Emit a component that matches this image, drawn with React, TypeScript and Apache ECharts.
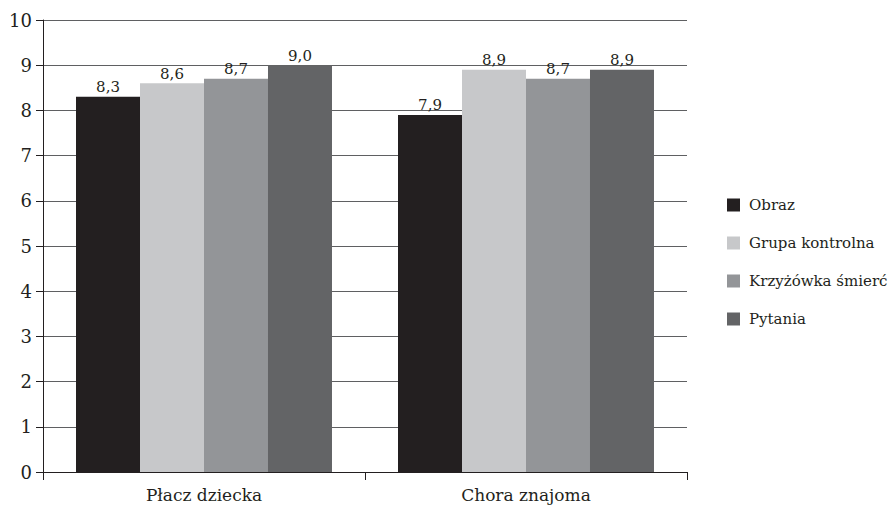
import React, { useEffect, useRef } from "react";
import * as echarts from "echarts";

const categories = ["Płacz dziecka", "Chora znajoma"];
const seriesNames = ["Obraz", "Grupa kontrolna", "Krzyżówka śmierć", "Pytania"];
const obraz = [8.3, 7.9];
const grupaKontrolna = [8.6, 8.9];
const krzyzowka = [8.7, 8.7];
const pytania = [9.0, 8.9];
const colors = ["#231f20", "#c7c8ca", "#939598", "#636466"];

const FONT = "DejaVu Serif";

export default function App() {
  const ref = useRef<HTMLDivElement>(null);
  useEffect(() => {
    document.body.style.margin = "0";
    if (!ref.current) return;
    const chart = echarts.init(ref.current, undefined, { renderer: "svg" });
    const values = [obraz, grupaKontrolna, krzyzowka, pytania];
    chart.setOption({
      animation: false,
      textStyle: { fontFamily: FONT },
      grid: { left: 43, right: 207, top: 20, bottom: 37, containLabel: false },
      legend: {
        orient: "vertical",
        left: 722,
        top: 192,
        itemWidth: 13,
        itemHeight: 13,
        itemGap: 22,
        icon: "rect",
        textStyle: { fontFamily: FONT, fontSize: 15, color: "#231f20", lineHeight: 16, padding: [0, 0, 0, 4] },
        data: seriesNames,
      },
      xAxis: {
        type: "category",
        data: categories,
        axisLine: { lineStyle: { color: "#231f20", width: 1 } },
        axisTick: { show: true, length: 8, lineStyle: { color: "#231f20" } },
        axisLabel: { fontFamily: FONT, fontSize: 17, color: "#231f20", margin: 14 },
      },
      yAxis: {
        type: "value",
        min: 0,
        max: 10,
        interval: 1,
        axisLine: { show: true, lineStyle: { color: "#231f20", width: 1 } },
        axisTick: { show: true, length: 7, lineStyle: { color: "#231f20" } },
        axisLabel: { fontFamily: FONT, fontSize: 18, color: "#231f20", margin: 11 },
        splitLine: { show: true, lineStyle: { color: "#5f6062", width: 1 } },
      },
      series: seriesNames.map((name, i) => ({
        name,
        type: "bar",
        data: values[i],
        barGap: "0%",
        barCategoryGap: "20.5%",
        itemStyle: { color: colors[i] },
        label: {
          show: true,
          position: "top",
          distance: 2,
          fontFamily: FONT,
          fontSize: 15,
          color: "#231f20",
          formatter: (p: any) => p.value.toFixed(1).replace(".", ","),
        },
      })),
    });
    return () => chart.dispose();
  }, []);
  return <div ref={ref} style={{ width: 894, height: 509 }} />;
}
